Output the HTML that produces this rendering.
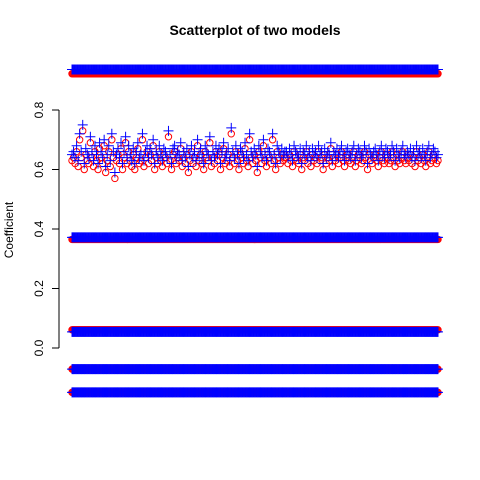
<!DOCTYPE html>
<html><head><meta charset="utf-8"><style>
html,body{margin:0;padding:0;background:#fff}
svg{display:block;font-family:"Liberation Sans",Arial,sans-serif}
</style></head><body>
<svg id="chart" width="480" height="480" viewBox="0 0 480 480" xmlns="http://www.w3.org/2000/svg">
<rect width="480" height="480" fill="#fff"/>
<text x="255" y="35" text-anchor="middle" font-size="14" font-weight="bold">Scatterplot of two models</text>
<text transform="translate(13,230) rotate(-90)" text-anchor="middle" font-size="12">Coefficient</text>
<g id="yaxis"></g>
<g id="marks"></g>
</svg>
<script>
const yTicks = [0.0, 0.2, 0.4, 0.6, 0.8];
const yTickLabels = ["0.0", "0.2", "0.4", "0.6", "0.8"];
const bandRed = [0.922, 0.365, 0.061, -0.071, -0.149];
const bandBlue = [0.936, 0.372, 0.054, -0.071, -0.149];
const cloudRed = [0.63,0.64,0.62,0.66,0.61,0.70,0.64,0.73,0.60,0.65,0.63,0.62,0.69,0.64,0.61,0.66,0.63,0.60,0.67,0.64,
0.62,0.68,0.59,0.63,0.66,0.61,0.70,0.64,0.57,0.63,0.65,0.62,0.67,0.60,0.64,0.69,0.62,0.66,0.63,0.61,
0.65,0.60,0.64,0.67,0.62,0.63,0.70,0.61,0.64,0.66,0.62,0.65,0.63,0.68,0.60,0.64,0.62,0.66,0.63,0.61,
0.65,0.64,0.62,0.71,0.63,0.60,0.65,0.66,0.62,0.64,0.63,0.67,0.61,0.64,0.62,0.65,0.59,0.63,0.66,0.62,
0.64,0.61,0.68,0.63,0.65,0.62,0.60,0.66,0.64,0.63,0.69,0.61,0.64,0.62,0.66,0.63,0.65,0.60,0.64,0.67,
0.62,0.63,0.65,0.61,0.72,0.64,0.62,0.66,0.63,0.60,0.65,0.64,0.62,0.67,0.63,0.61,0.70,0.64,0.62,0.65,
0.63,0.59,0.66,0.64,0.62,0.68,0.63,0.61,0.65,0.64,0.62,0.70,0.63,0.60,0.66,0.64,0.62,0.65,0.63,0.64,
0.64,0.62,0.65,0.63,0.61,0.66,0.64,0.63,0.62,0.65,0.60,0.64,0.63,0.66,0.62,0.64,0.61,0.65,0.63,0.64,
0.62,0.66,0.63,0.64,0.60,0.65,0.62,0.64,0.63,0.67,0.61,0.64,0.63,0.65,0.62,0.64,0.66,0.63,0.61,0.64,
0.65,0.63,0.62,0.64,0.66,0.61,0.63,0.65,0.64,0.62,0.63,0.66,0.64,0.60,0.65,0.63,0.62,0.64,0.65,0.63,
0.61,0.64,0.66,0.63,0.62,0.65,0.64,0.62,0.63,0.66,0.64,0.61,0.65,0.63,0.62,0.64,0.66,0.63,0.62,0.64,
0.63,0.65,0.62,0.64,0.61,0.66,0.63,0.64,0.62,0.65,0.63,0.61,0.64,0.66,0.62,0.63,0.65,0.64,0.62,0.63];
const cloudBlue = [0.65,0.66,0.64,0.68,0.63,0.72,0.66,0.75,0.62,0.67,0.65,0.64,0.71,0.66,0.63,0.68,0.65,0.62,0.69,0.66,
0.64,0.70,0.61,0.65,0.68,0.63,0.72,0.66,0.59,0.65,0.67,0.64,0.69,0.62,0.66,0.71,0.64,0.68,0.65,0.63,
0.67,0.62,0.66,0.69,0.64,0.65,0.72,0.63,0.66,0.68,0.64,0.67,0.65,0.70,0.62,0.66,0.64,0.68,0.65,0.63,
0.67,0.66,0.64,0.73,0.65,0.62,0.67,0.68,0.64,0.66,0.65,0.69,0.63,0.66,0.64,0.67,0.61,0.65,0.68,0.64,
0.66,0.63,0.70,0.65,0.67,0.64,0.62,0.68,0.66,0.65,0.71,0.63,0.66,0.64,0.68,0.65,0.67,0.62,0.66,0.69,
0.64,0.65,0.67,0.63,0.74,0.66,0.64,0.68,0.65,0.62,0.67,0.66,0.64,0.69,0.65,0.63,0.72,0.66,0.64,0.67,
0.65,0.61,0.68,0.66,0.64,0.70,0.65,0.63,0.67,0.66,0.64,0.72,0.65,0.62,0.68,0.66,0.64,0.67,0.65,0.66,
0.66,0.64,0.67,0.65,0.63,0.68,0.66,0.65,0.64,0.67,0.62,0.66,0.65,0.68,0.64,0.66,0.63,0.67,0.65,0.66,
0.64,0.68,0.65,0.66,0.62,0.67,0.64,0.66,0.65,0.69,0.63,0.66,0.65,0.67,0.64,0.66,0.68,0.65,0.63,0.66,
0.67,0.65,0.64,0.66,0.68,0.63,0.65,0.67,0.66,0.64,0.65,0.68,0.66,0.62,0.67,0.65,0.64,0.66,0.67,0.65,
0.63,0.66,0.68,0.65,0.64,0.67,0.66,0.64,0.65,0.68,0.66,0.63,0.67,0.65,0.64,0.66,0.68,0.65,0.64,0.66,
0.65,0.67,0.64,0.66,0.63,0.68,0.65,0.66,0.64,0.67,0.65,0.63,0.66,0.68,0.64,0.65,0.67,0.66,0.64,0.65];

const NS="http://www.w3.org/2000/svg";
const y = v => 348 - v*297.5;
const n = cloudRed.length;
const x = i => 72 + i*(438-72)/(n-1);
const nb = 500;
const xb = i => 72 + i*(438-72)/(nb-1);
function mk(tag, attrs, parent){const e=document.createElementNS(NS,tag);for(const k in attrs)e.setAttribute(k,attrs[k]);parent.appendChild(e);return e;}
const ax=document.getElementById('yaxis');
let l=mk('line',{x1:59,x2:59,y1:y(0.8),y2:y(0),stroke:'#000'},ax);


yTicks.forEach((t,i)=>{
  const tk=mk('line',{x1:52,x2:59,y1:y(t),y2:y(t),stroke:'#000'},ax);
  
  
  const tx=mk('text',{transform:`translate(43,${y(t)}) rotate(-90)`,'text-anchor':'middle','font-size':12},ax);
  tx.textContent=yTickLabels[i];
  
  
});
const g=document.getElementById('marks');
function circ(cx,cy){const c=mk('circle',{cx:cx,cy:cy,r:3.2,fill:'none',stroke:'#f00','stroke-width':1},g);

}
function plus(cx,cy){const p=mk('path',{d:`M${cx-5} ${cy}H${cx+5}M${cx} ${cy-5}V${cy+5}`,stroke:'#00f','stroke-width':1,fill:'none'},g);

}
bandRed.forEach((v,b)=>{for(let i=0;i<nb;i++){circ(xb(i),y(v));} for(let i=0;i<nb;i++){plus(xb(i),y(bandBlue[b]));}});
for(let i=0;i<n;i++){circ(x(i),y(cloudRed[i]));}
for(let i=0;i<n;i++){plus(x(i),y(cloudBlue[i]));}
</script>
</body></html>
